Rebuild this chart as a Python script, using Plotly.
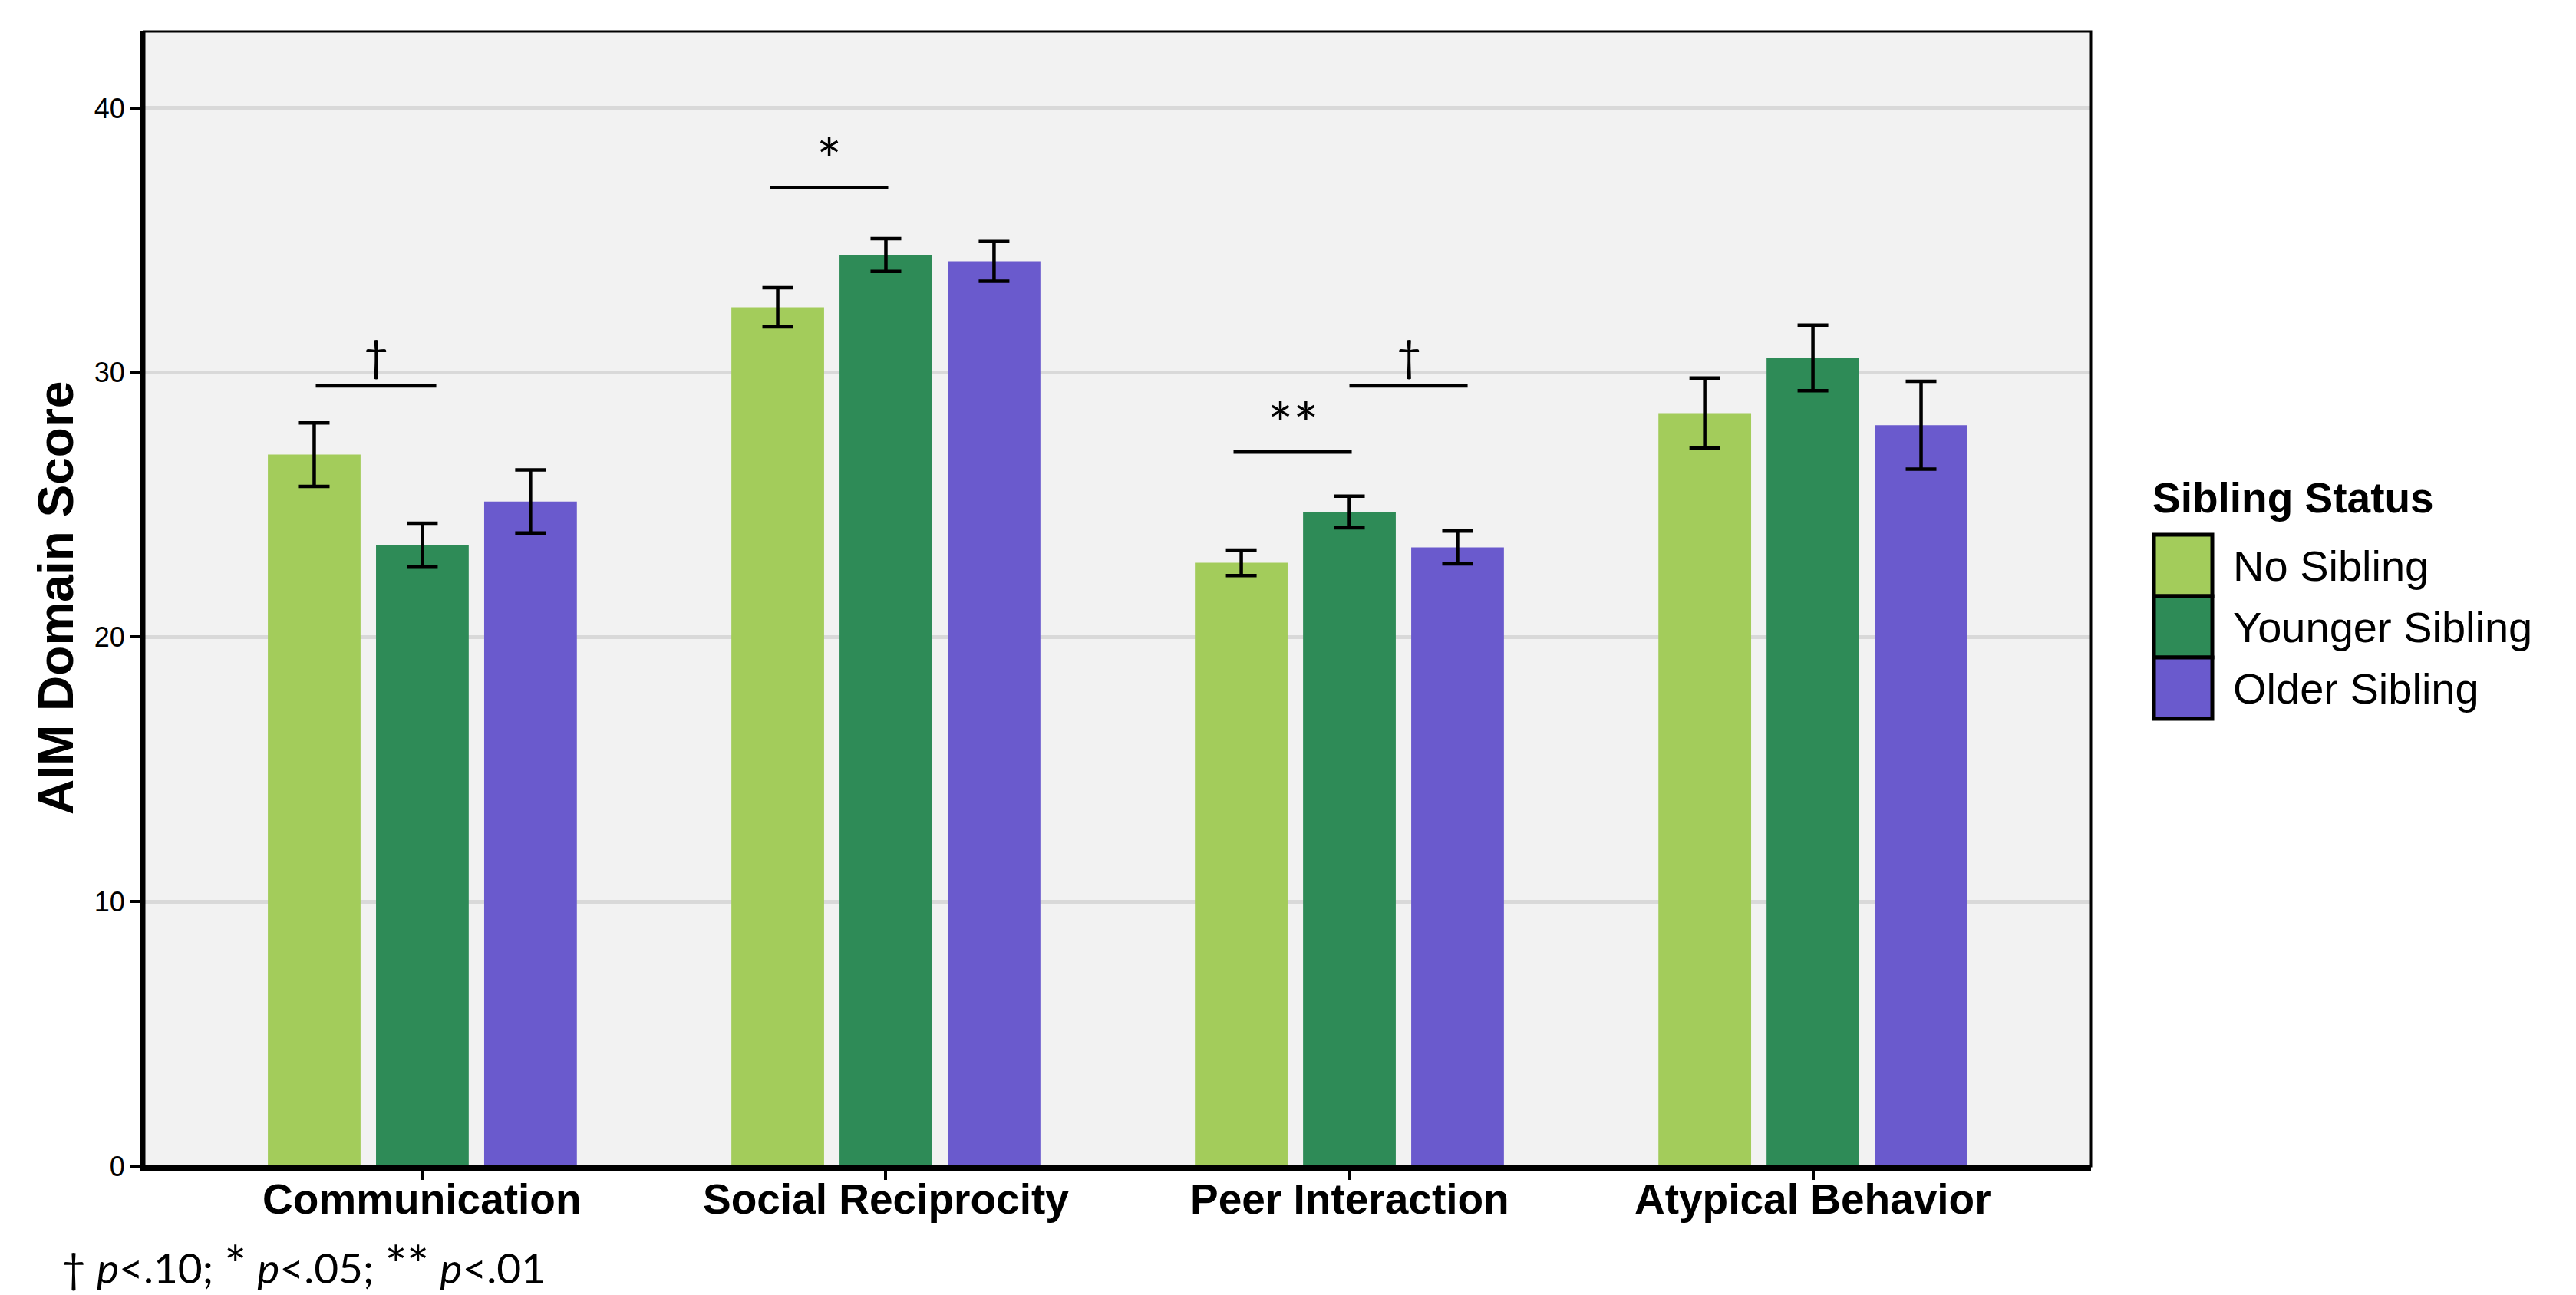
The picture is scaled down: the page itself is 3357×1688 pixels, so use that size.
import plotly.graph_objects as go

# AIM domain means and standard errors by sibling status
domains = ["Communication", "Social Reciprocity", "Peer Interaction", "Atypical Behavior"]
groups = ["No Sibling", "Younger Sibling", "Older Sibling"]
colors = ["#A3CC5B", "#2E8B57", "#6A5ACD"]

no_sibling = [26.9, 32.47, 22.81, 28.47]
younger_sibling = [23.48, 34.45, 24.73, 30.56]
older_sibling = [25.13, 34.21, 23.39, 28.01]

se_no_sibling = [1.2, 0.74, 0.48, 1.33]
se_younger_sibling = [0.83, 0.62, 0.6, 1.24]
se_older_sibling = [1.19, 0.75, 0.62, 1.66]

# significance brackets: (x start, x end, y, label) in category units
brackets = [
    (-0.23, 0.03, 29.5, "†"),
    (0.75, 1.005, 37.0, "*"),
    (1.75, 2.005, 27.0, "**"),
    (2.0, 2.255, 29.5, "†"),
]

y_ticks = [0, 10, 20, 30, 40]
STAR = '<span style="font-size:68px">{}</span>'
footnote = ("† <i>p</i>&lt;.10; " + STAR.format("*") + " <i>p</i>&lt;.05; "
            + STAR.format("**") + " <i>p</i>&lt;.01")

W, H = 3357, 1688
L, R, T, B = 188, 2725, 41, 1520


def px(x):
    return (x - L) / (R - L)


def py(y):
    return (B - y) / (B - T)


fig = go.Figure()
series = [no_sibling, younger_sibling, older_sibling]
errors = [se_no_sibling, se_younger_sibling, se_older_sibling]
for name, vals, err, col in zip(groups, series, errors, colors):
    fig.add_trace(go.Bar(
        name=name, x=domains, y=vals, marker_color=col, marker_line_width=0,
        error_y=dict(type="data", array=err, color="black", thickness=4.5, width=20),
        showlegend=False,
    ))

shapes = []
annotations = []
for x0, x1, y, lab in brackets:
    shapes.append(dict(type="line", xref="x", yref="y", x0=x0, x1=x1, y0=y, y1=y,
                       line=dict(color="black", width=4.5)))
    is_star = lab.startswith("*")
    annotations.append(dict(xref="x", yref="y", x=(x0 + x1) / 2,
                            y=y + (-0.33 if is_star else 0.15),
                            text=lab, showarrow=False, yanchor="bottom",
                            font=dict(family="Lato", size=78 if is_star else 56,
                                      color="black")))

# category labels under the axis
for d in domains:
    annotations.append(dict(xref="x", yref="paper", x=d, y=py(1563),
                            xanchor="center", yanchor="middle", text="<b>" + d + "</b>",
                            showarrow=False,
                            font=dict(family="Liberation Sans", size=55, color="black")))

# panel border (thin)
shapes.append(dict(type="rect", xref="paper", yref="paper", x0=0, x1=1, y0=0, y1=1,
                   line=dict(color="black", width=3), layer="above"))

# legend drawn as keys + labels
key_x0, key_x1 = 2807, 2883
key_edges = [697, 777, 857, 937]
for i, (name, col) in enumerate(zip(groups, colors)):
    shapes.append(dict(type="rect", xref="paper", yref="paper",
                       x0=px(key_x0), x1=px(key_x1),
                       y0=py(key_edges[i + 1]), y1=py(key_edges[i]),
                       fillcolor=col, line=dict(color="black", width=5)))
    annotations.append(dict(xref="paper", yref="paper", x=px(2908),
                            y=py((key_edges[i] + key_edges[i + 1]) / 2),
                            xanchor="left", yanchor="middle", text=name, showarrow=False,
                            font=dict(family="Liberation Sans", size=56, color="black")))
annotations.append(dict(xref="paper", yref="paper", x=px(2803), y=py(649),
                        xanchor="left", yanchor="middle", text="<b>Sibling Status</b>",
                        showarrow=False,
                        font=dict(family="Liberation Sans", size=55, color="black")))

# y axis title
annotations.append(dict(xref="paper", yref="paper", x=px(73), y=py(780),
                        xanchor="center", yanchor="middle", textangle=-90,
                        text="<b>AIM Domain Score</b>", showarrow=False,
                        font=dict(family="Liberation Sans", size=64, color="black")))

# footnote
annotations.append(dict(xref="paper", yref="paper", x=px(78), y=py(1646),
                        xanchor="left", yanchor="middle", text=footnote, showarrow=False,
                        font=dict(family="Lato", size=55, color="black")))

fig.update_layout(
    width=W, height=H,
    margin=dict(l=L, r=W - R, t=T, b=H - B, pad=0),
    paper_bgcolor="white", plot_bgcolor="#F2F2F2",
    barmode="group", bargap=0.3, bargroupgap=0.142857,
    shapes=shapes, annotations=annotations,
    showlegend=False,
)
fig.update_xaxes(
    range=[-0.6, 3.6], showgrid=False, zeroline=False,
    showline=True, linecolor="black", linewidth=6,
    ticks="outside", ticklen=12, tickwidth=4, tickcolor="black",
    showticklabels=False,
)
fig.update_yaxes(
    range=[0, 42.9], tickvals=y_ticks, showgrid=True, gridcolor="#D9D9D9", gridwidth=5,
    zeroline=False, showline=True, linecolor="black", linewidth=6,
    ticks="outside", ticklen=12, tickwidth=4, tickcolor="black",
    tickfont=dict(family="Liberation Sans", size=36, color="black"),
)

fig.write_html("out.html")
